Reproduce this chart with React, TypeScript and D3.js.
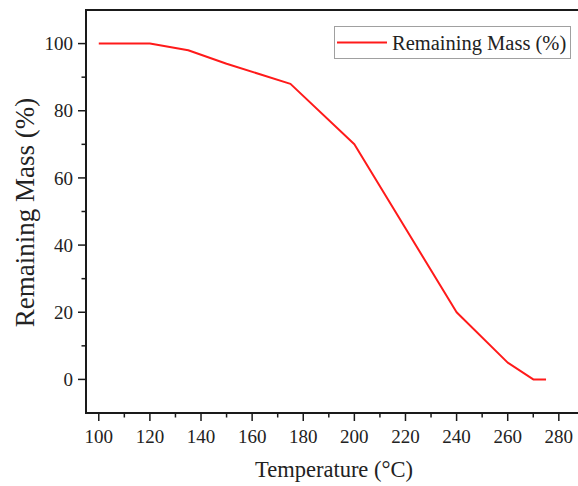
import React from "react";
import { scaleLinear, line, range } from "d3";

const width = 578;
const height = 486;

// temperature (°C) and remaining mass (%)
const temperature = [100, 120, 135, 150, 175, 200, 220, 240, 260, 270, 275];
const remainingMass = [100, 100, 98, 94, 88, 70, 45, 20, 5, 0, 0];
const xTicks = [100, 120, 140, 160, 180, 200, 220, 240, 260, 280];
const yTicks = [0, 20, 40, 60, 80, 100];
const seriesName = "Remaining Mass (%)";

const left = 86;
const right = 578;
const top = 10;
const bottom = 413;

const x = scaleLinear().domain([95, 287.5]).range([left, right]);
const y = scaleLinear().domain([-10, 110]).range([bottom, top]);

const xMinor = range(110, 280, 20);
const yMinor = range(10, 100, 20);

const font = "'Liberation Serif', 'Times New Roman', serif";
const axisColor = "#1a1a1a";
const red = "#ff1a1a";

const makeLine = line<number>()
  .x((d, i) => x(temperature[i]))
  .y((d) => y(d));

const App = () => {
  return (
    <svg
      width={width}
      height={height}
      style={{ position: "absolute", left: 0, top: 0, background: "#fff" }}
    >
      {/* frame: left spine, top spine, bottom axis */}
      <line x1={left} y1={top} x2={left} y2={bottom + 1} stroke={axisColor} strokeWidth={2} />
      <line x1={left - 1} y1={top} x2={right} y2={top} stroke={axisColor} strokeWidth={2} />
      <line x1={left - 1} y1={bottom} x2={right} y2={bottom} stroke={axisColor} strokeWidth={2} />

      {xTicks.map((t) => (
        <g key={"x" + t}>
          <line x1={x(t)} x2={x(t)} y1={bottom} y2={bottom + 8} stroke={axisColor} strokeWidth={1.5} />
          <text
            x={x(t)}
            y={bottom + 30}
            textAnchor="middle"
            fontFamily={font}
            fontSize={19}
            fill="#222"
          >
            {t}
          </text>
        </g>
      ))}
      {xMinor.map((t) => (
        <line key={"xm" + t} x1={x(t)} x2={x(t)} y1={bottom} y2={bottom + 4.5} stroke={axisColor} strokeWidth={1.5} />
      ))}

      {yTicks.map((t) => (
        <g key={"y" + t}>
          <line x1={left - 8} x2={left} y1={y(t)} y2={y(t)} stroke={axisColor} strokeWidth={1.5} />
          <text
            x={left - 13}
            y={y(t)}
            dy="0.35em"
            textAnchor="end"
            fontFamily={font}
            fontSize={19}
            fill="#222"
          >
            {t}
          </text>
        </g>
      ))}
      {yMinor.map((t) => (
        <line key={"ym" + t} x1={left - 4.5} x2={left} y1={y(t)} y2={y(t)} stroke={axisColor} strokeWidth={1.5} />
      ))}

      <path d={makeLine(remainingMass) || ""} fill="none" stroke={red} strokeWidth={2} strokeLinejoin="round" />

      {/* axis titles */}
      <text
        x={(left + 416 * 2 - left) / 2 - 82}
        y={477}
        textAnchor="middle"
        fontFamily={font}
        fontSize={22.5}
        fill="#222"
      >
        Temperature (°C)
      </text>
      <text
        transform={`translate(34, ${(98 + 327) / 2}) rotate(-90)`}
        textAnchor="middle"
        fontFamily={font}
        fontSize={27}
        fill="#222"
      >
        {seriesName}
      </text>

      {/* legend */}
      <rect x={334.5} y={26.5} width={236} height={32} fill="#fff" stroke="#a0a0a0" strokeWidth={1} />
      <line x1={337} x2={387} y1={42.5} y2={42.5} stroke={red} strokeWidth={2} />
      <text x={392} y={42.5} dy="0.35em" fontFamily={font} fontSize={20.5} fill="#222">
        {seriesName}
      </text>
    </svg>
  );
};

export default App;
